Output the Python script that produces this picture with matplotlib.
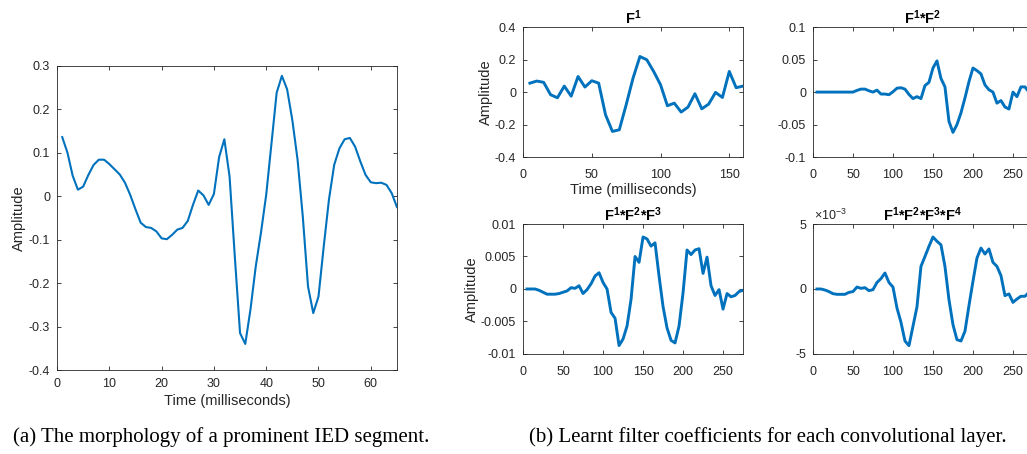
import numpy as np
import matplotlib
matplotlib.use('agg')
from matplotlib import pyplot as plt

plt.rcParams['font.family'] = ['Liberation Sans', 'DejaVu Sans']
plt.rcParams['mathtext.fontset'] = 'custom'
plt.rcParams['mathtext.rm'] = 'Liberation Sans'
plt.rcParams['mathtext.bf'] = 'Liberation Sans:bold'

##############
### inputs ###
##############

# (a) IED segment, one sample per millisecond from 1 to 65
ied_time = np.arange(1, 66)
ied_amp = [0.136, 0.100, 0.047, 0.015, 0.022, 0.049, 0.072, 0.084, 0.084, 0.074,
           0.062, 0.050, 0.031, 0.003, -0.030, -0.061, -0.071, -0.073, -0.081, -0.097,
           -0.099, -0.089, -0.077, -0.073, -0.057, -0.020, 0.013, 0.002, -0.020, 0.005,
           0.090, 0.131, 0.045, -0.139, -0.315, -0.340, -0.260, -0.162, -0.084, 0.003,
           0.120, 0.238, 0.277, 0.246, 0.175, 0.084, -0.047, -0.208, -0.269, -0.231,
           -0.116, -0.008, 0.072, 0.110, 0.131, 0.134, 0.114, 0.080, 0.049, 0.032,
           0.030, 0.031, 0.026, 0.007, -0.025]

# (b) learnt filters, sampled every 5 ms
f1_time = np.arange(5, 161, 5)
f1 = [0.055, 0.068, 0.060, -0.016, -0.035, 0.037, -0.025, 0.096, 0.031, 0.070,
      0.055, -0.140, -0.242, -0.232, -0.078, 0.086, 0.219, 0.199, 0.127, 0.045,
      -0.084, -0.068, -0.123, -0.092, -0.010, -0.103, -0.074, -0.002, -0.033, 0.127,
      0.027, 0.037]

conv_time = np.arange(5, 276, 5)
f12 = [0, 0, 0, 0, 0, 0, 0, 0, 0, 0,
       0.0026, 0.0046, 0.0046, 0.0020, 0.0, 0.0030, -0.0030, -0.0030, -0.0040, 0.0005,
       0.0060, 0.0067, 0.0046, -0.0036, -0.0100, -0.0070, -0.0100, 0.0100, 0.0150, 0.0370,
       0.0480, 0.0210, 0.0080, -0.0450, -0.0620, -0.0500, -0.0320, -0.0090, 0.0160, 0.0370,
       0.0330, 0.0280, 0.0110, 0.0036, 0.0, -0.0170, -0.0130, -0.0230, -0.0260, 0.0,
       -0.0070, 0.0080, 0.0080, 0.0, 0.0090]
f123 = [0, 0, 0, -0.0002, -0.0005, -0.0008, -0.0008, -0.0008, -0.0007, -0.0005,
        -0.0003, 0.0002, 0.0001, 0.0005, -0.0007, -0.0001, 0.0008, 0.0020, 0.0025, 0.0010,
        0.0, -0.0036, -0.0045, -0.0087, -0.0077, -0.0057, -0.0016, 0.0050, 0.0041, 0.0080,
        0.0077, 0.0066, 0.0071, 0.0020, -0.0027, -0.0060, -0.0079, -0.0083, -0.0057, -0.0006,
        0.0060, 0.0053, 0.0060, 0.0062, 0.0024, 0.0049, 0.0005, -0.0010, -0.0001, -0.0031,
        -0.0007, -0.0012, -0.0010, -0.0004, -0.0002]
# in units of 1e-3
f1234_e3 = [0, 0, -0.08, -0.20, -0.36, -0.41, -0.41, -0.41, -0.26, -0.20,
            0.15, 0.05, 0.10, -0.13, -0.05, 0.50, 0.80, 1.23, 0.50, 0.15,
            -1.46, -2.56, -4.00, -4.36, -2.87, -1.38, 1.74, 2.50, 3.28, 4.00,
            3.67, 3.40, 1.74, -0.82, -2.74, -3.90, -4.00, -3.25, -1.28, 0.59,
            2.38, 3.15, 2.69, 3.08, 2.05, 1.74, 1.03, -0.51, -0.38, -1.03,
            -0.77, -0.56, -0.56, -0.26, 0.0]

line_col = '#0072BD'
axis_col = '#262626'
tick_fs = 9
label_fs = 10.5
title_fs = 10.5

############
### MAIN ###
############

fig = plt.figure(figsize=(10.27, 4.54), dpi=100)


def style(ax, xpad):
    ax.tick_params(direction='in', top=True, right=True, labelsize=tick_fs,
                   colors=axis_col, length=3, width=0.6)
    ax.tick_params(axis='x', pad=xpad)
    ax.tick_params(axis='y', pad=5)
    for sp in ax.spines.values():
        sp.set_color(axis_col)
        sp.set_linewidth(0.6)


# (a)
ax_a = fig.add_axes([0.0555, 0.185, 0.331, 0.670])
ax_a.plot(ied_time, ied_amp, color=line_col, lw=1.5)
ax_a.set_xlim(0, 65)
ax_a.set_ylim(-0.4, 0.3)
ax_a.set_xticks([0, 10, 20, 30, 40, 50, 60])
ax_a.set_yticks([-0.4, -0.3, -0.2, -0.1, 0, 0.1, 0.2, 0.3])
ax_a.set_yticklabels(['-0.4', '-0.3', '-0.2', '-0.1', '0', '0.1', '0.2', '0.3'])
ax_a.set_xlabel('Time (milliseconds)', fontsize=label_fs, color=axis_col, labelpad=3)
ax_a.set_ylabel('Amplitude', fontsize=label_fs, color=axis_col, labelpad=2)
style(ax_a, 5.5)

# (b)
w, h = 0.2142, 0.2863
ax1 = fig.add_axes([0.5093, 0.654, w, h])
ax2 = fig.add_axes([0.7916, 0.654, w, h])
ax3 = fig.add_axes([0.5093, 0.2203, w, h])
ax4 = fig.add_axes([0.7916, 0.2203, w, h])

ax1.plot(f1_time, f1, color=line_col, lw=2.1)
ax1.set_xlim(0, 160)
ax1.set_ylim(-0.4, 0.4)
ax1.set_xticks([0, 50, 100, 150])
ax1.set_yticks([-0.4, -0.2, 0, 0.2, 0.4])
ax1.set_yticklabels(['-0.4', '-0.2', '0', '0.2', '0.4'])
ax1.set_title(r'$\mathbf{F^1}$', fontsize=title_fs, pad=2)
ax1.set_xlabel('Time (milliseconds)', fontsize=label_fs, color=axis_col, labelpad=1.5)
ax1.set_ylabel('Amplitude', fontsize=label_fs, color=axis_col, labelpad=1)

ax2.plot(conv_time, f12, color=line_col, lw=2.1)
ax2.set_xlim(0, 275)
ax2.set_ylim(-0.1, 0.1)
ax2.set_xticks([0, 50, 100, 150, 200, 250])
ax2.set_yticks([-0.1, -0.05, 0, 0.05, 0.1])
ax2.set_yticklabels(['-0.1', '-0.05', '0', '0.05', '0.1'])
ax2.set_title(r'$\mathbf{F^1{*}F^2}$', fontsize=title_fs, pad=2)

ax3.plot(conv_time, f123, color=line_col, lw=2.1)
ax3.set_xlim(0, 275)
ax3.set_ylim(-0.01, 0.01)
ax3.set_xticks([0, 50, 100, 150, 200, 250])
ax3.set_yticks([-0.01, -0.005, 0, 0.005, 0.01])
ax3.set_yticklabels(['-0.01', '-0.005', '0', '0.005', '0.01'])
ax3.set_title(r'$\mathbf{F^1{*}F^2{*}F^3}$', fontsize=title_fs, pad=2)
ax3.set_ylabel('Amplitude', fontsize=label_fs, color=axis_col, labelpad=1)

ax4.plot(conv_time, np.array(f1234_e3) * 1e-3, color=line_col, lw=2.1)
ax4.set_xlim(0, 275)
ax4.set_ylim(-5e-3, 5e-3)
ax4.set_xticks([0, 50, 100, 150, 200, 250])
ax4.set_yticks([-5e-3, 0, 5e-3])
ax4.set_yticklabels(['-5', '0', '5'])
ax4.set_title(r'$\mathbf{F^1{*}F^2{*}F^3{*}F^4}$', fontsize=title_fs, pad=2)
ax4.text(0.005, 1.01, r'$\times 10^{-3}$', transform=ax4.transAxes, fontsize=9,
         color=axis_col, ha='left', va='bottom')

for ax in (ax1, ax2, ax3, ax4):
    style(ax, 8.5)

# captions
fig.text(0.215, 0.026, '(a) The morphology of a prominent IED segment.',
         family='Liberation Serif', fontsize=15, ha='center', va='baseline')
fig.text(0.748, 0.026, '(b) Learnt filter coefficients for each convolutional layer.',
         family='Liberation Serif', fontsize=15, ha='center', va='baseline')

fig.savefig('out.png', dpi=100)
